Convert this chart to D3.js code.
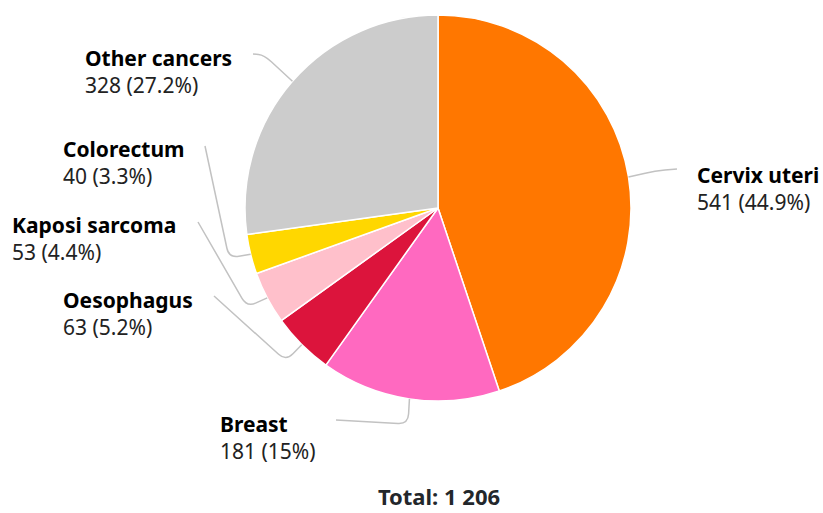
<!DOCTYPE html>
<html>
<head>
<meta charset="utf-8">
<script src="https://cdn.jsdelivr.net/npm/d3@7"></script>
<style>
  body { margin: 0; background: #fff; }
  svg { display: block; font-family: "Noto Sans", "Open Sans", sans-serif; }
  .lbl-name { font-weight: 700; fill: #000; }
  .lbl-value { fill: #222; }
  .total { font-weight: 700; fill: #23272b; }
</style>
</head>
<body>
<div id="chart"></div>
<script>
const categories = ["Cervix uteri", "Breast", "Oesophagus", "Kaposi sarcoma", "Colorectum", "Other cancers"];
const counts = [541, 181, 63, 53, 40, 328];
const percents = ["44.9%", "15%", "5.2%", "4.4%", "3.3%", "27.2%"];
const colors = ["#ff7700", "#ff69c0", "#dc143c", "#ffc0cb", "#ffd700", "#cccccc"];
const totalLabel = "Total: 1 206";

// label layout: text position, connector anchor, connector corner
const labelLayout = [
  { x: 697, y: 183, a: [677, 169], c: [655, 171] },
  { x: 220, y: 432, a: [336, 420], c: [408, 424] },
  { x: 63, y: 308, a: [214, 296], c: [286, 361] },
  { x: 12, y: 233, a: [198, 222], c: [247, 307] },
  { x: 63, y: 157, a: [205, 146], c: [229, 258] },
  { x: 85, y: 66, a: [253, 54], c: [264, 55] },
];

const width = 823;
const height = 513;
const cx = 438;
const cy = 208;
const radius = 193;

const data = categories.map((name, i) => ({
  name,
  value: counts[i],
  pct: percents[i],
  color: colors[i],
  layout: labelLayout[i],
}));

const svg = d3
  .select("#chart")
  .append("svg")
  .attr("width", width)
  .attr("height", height);

const pie = d3.pie().sort(null).value((d) => d.value);
const arcs = pie(data);

const arc = d3.arc().innerRadius(0).outerRadius(radius);
const edge = d3.arc().innerRadius(radius).outerRadius(radius);

const g = svg.append("g").attr("transform", `translate(${cx},${cy})`);

g.selectAll(".slice")
  .data(arcs)
  .join("path")
  .attr("class", "slice")
  .attr("d", arc)
  .attr("fill", (d) => d.data.color)
  .attr("stroke", "#fff")
  .attr("stroke-width", 1.5)
  .attr("stroke-linejoin", "round");

// connector: anchor -> rounded corner -> slice edge
function connector(d) {
  const [ex, ey] = edge.centroid(d).map((v, i) => v + (i ? cy : cx));
  const A = d.data.layout.a;
  const C = d.data.layout.c;
  const E = [ex, ey];
  const toward = (p, q, dist) => {
    const dx = q[0] - p[0];
    const dy = q[1] - p[1];
    const len = Math.hypot(dx, dy) || 1;
    const t = Math.min(dist, len / 2) / len;
    return [p[0] + dx * t, p[1] + dy * t];
  };
  const p1 = toward(C, A, 10);
  const p2 = toward(C, E, 10);
  return `M${A}L${p1}Q${C} ${p2}L${E}`;
}

svg
  .append("g")
  .attr("class", "connectors")
  .selectAll("path")
  .data(arcs)
  .join("path")
  .attr("d", connector)
  .attr("fill", "none")
  .attr("stroke", "#c2c2c2")
  .attr("stroke-width", 1.5);

const labels = svg
  .append("g")
  .attr("class", "labels")
  .selectAll("text")
  .data(arcs)
  .join("text")
  .attr("x", (d) => d.data.layout.x)
  .attr("y", (d) => d.data.layout.y)
  .style("font-size", "21px");

labels
  .append("tspan")
  .attr("class", "lbl-name")
  .text((d) => d.data.name);

labels
  .append("tspan")
  .attr("class", "lbl-value")
  .attr("x", (d) => d.data.layout.x)
  .attr("dy", 27)
  .text((d) => `${d.data.value} (${d.data.pct})`);

svg
  .append("text")
  .attr("class", "total")
  .attr("x", cx + 1)
  .attr("y", 505)
  .attr("text-anchor", "middle")
  .style("font-size", "22px")
  .text(totalLabel);
</script>
</body>
</html>
